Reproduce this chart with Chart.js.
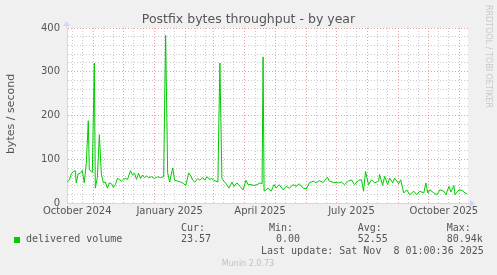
<!DOCTYPE html>
<html>
<head>
<meta charset="utf-8">
<script src="https://cdn.jsdelivr.net/npm/chart.js@4/dist/chart.umd.min.js"></script>
<style>
  html, body { margin: 0; padding: 0; background: #f0f0f0; }
  #chart { display: block; }
</style>
</head>
<body>
<canvas id="chart" width="497" height="275"></canvas>
<script>
// days since 2024-10-01, daily average bytes/second
const days = [5, 7, 9, 11, 13, 14, 16, 18, 20, 22, 24, 26, 27, 29, 30, 32, 33, 35, 37, 39,
  41, 43, 45, 47, 49, 51, 53, 55, 57, 59, 61, 63, 65, 68, 70, 72, 74, 76, 78, 80,
  82, 84, 86, 89, 92, 95, 98, 101, 103, 105, 107, 110, 112, 115, 118, 121, 123, 126, 128, 130,
  132, 135, 137, 140, 142, 144, 147, 149, 151, 153, 155, 157, 159, 161, 163, 166, 169, 171, 174, 177,
  180, 183, 185, 188, 191, 194, 197, 199, 200, 201, 205, 208, 211, 213, 216, 220, 223, 226, 230, 233,
  236, 240, 243, 246, 250, 253, 256, 260, 264, 266, 270, 275, 278, 281, 285, 288, 291, 295, 298, 300,
  302, 305, 308, 311, 315, 316, 319, 321, 324, 326, 329, 331, 335, 337, 340, 343, 346, 350, 353, 356,
  360, 362, 364, 366, 370, 373, 376, 380, 382, 385, 387, 390, 391, 395, 398, 401, 403];
const volume = [48, 52, 66, 72, 74, 46, 67, 68, 74, 46, 91, 188, 76, 72, 70, 320, 34, 58, 156, 66,
  46, 48, 34, 46, 44, 36, 42, 56, 54, 50, 54, 56, 54, 74, 64, 68, 54, 68, 56, 64,
  58, 62, 58, 60, 56, 60, 58, 60, 383, 69, 48, 80, 52, 50, 48, 44, 40, 69, 62, 52,
  48, 56, 52, 58, 52, 60, 54, 56, 52, 50, 48, 320, 56, 50, 45, 34, 48, 38, 46, 38,
  30, 52, 42, 42, 40, 42, 46, 44, 334, 27, 34, 27, 42, 34, 42, 30, 38, 34, 42, 38,
  44, 34, 32, 46, 50, 46, 51, 47, 59, 50, 47, 46, 48, 42, 50, 53, 42, 52, 53, 27,
  72, 42, 53, 46, 50, 65, 40, 61, 42, 57, 46, 57, 44, 53, 23, 30, 19, 27, 19, 27,
  23, 46, 23, 30, 23, 19, 30, 27, 19, 38, 25, 40, 19, 30, 29, 23, 21];

// first day of each month (days since 2024-10-01)
const monthStarts = [31, 61, 92, 123, 151, 182, 212, 243, 273, 304, 335, 365, 396];
const minorTicks = [10, 20, 41, 51, 71, 81, 102, 112, 133, 143, 161, 171, 192, 202, 222, 232,
  253, 263, 283, 293, 314, 324, 345, 355, 375, 385];
const labelDays = [15, 107, 197, 288, 380];
const labelNames = ['October 2024', 'January 2025', 'April 2025', 'July 2025', 'October 2025'];

const AXIS = '#cfd6f8';
const MINOR = 'rgba(190,190,190,0.8)';
const MAJOR = 'rgba(230,130,130,0.75)';
const FONT = '#555555';

const decor = {
  id: 'decor',
  beforeDraw(chart) {
    const { ctx, chartArea: a } = chart;
    ctx.save();
    ctx.fillStyle = '#f0f0f0';
    ctx.fillRect(0, 0, chart.width, chart.height);
    ctx.fillStyle = '#ffffff';
    ctx.fillRect(a.left, a.top, a.right - a.left, a.bottom - a.top);
    ctx.restore();
  },
  afterDraw(chart) {
    const { ctx, chartArea: a } = chart;
    ctx.save();
    // axis extensions and arrows
    ctx.strokeStyle = AXIS;
    ctx.fillStyle = AXIS;
    ctx.lineWidth = 1;
    ctx.beginPath();
    ctx.moveTo(a.right, a.bottom + 0.5); ctx.lineTo(a.right + 4, a.bottom + 0.5);
    ctx.moveTo(a.left - 0.5, a.top); ctx.lineTo(a.left - 0.5, a.top - 4);
    ctx.stroke();
    ctx.beginPath();
    ctx.moveTo(a.right + 2, a.bottom - 3); ctx.lineTo(a.right + 7, a.bottom + 0.5); ctx.lineTo(a.right + 2, a.bottom + 4);
    ctx.closePath(); ctx.fill();
    ctx.beginPath();
    ctx.moveTo(a.left - 4, a.top - 2); ctx.lineTo(a.left - 0.5, a.top - 7); ctx.lineTo(a.left + 3, a.top - 2);
    ctx.closePath(); ctx.fill();

    // title
    ctx.fillStyle = FONT;
    ctx.textAlign = 'center';
    ctx.textBaseline = 'middle';
    ctx.font = '12.5px "DejaVu Sans"';
    ctx.fillText('Postfix bytes throughput - by year', chart.width / 2, 20);

    // y axis title
    ctx.save();
    ctx.translate(11, 114);
    ctx.rotate(-Math.PI / 2);
    ctx.font = '11px "DejaVu Sans"';
    ctx.fillText('bytes / second', 0, 0);
    ctx.restore();

    // rrdtool credit
    ctx.save();
    ctx.translate(488, 5);
    ctx.rotate(Math.PI / 2);
    ctx.textAlign = 'left';
    ctx.fillStyle = '#c8c8c8';
    ctx.font = '8px "DejaVu Sans"';
    ctx.fillText('RRDTOOL / TOBI OETIKER', 0, 0);
    ctx.restore();

    // legend
    ctx.textAlign = 'left';
    ctx.font = '10px "DejaVu Sans Mono"';
    ctx.fillStyle = FONT;
    ctx.fillText('Cur:', 181, 228);
    ctx.fillText('Min:', 269, 228);
    ctx.fillText('Avg:', 357.7, 228);
    ctx.fillText('Max:', 446.7, 228);
    ctx.fillText('delivered volume', 26, 239.5);
    ctx.fillText('23.57', 181, 239.5);
    ctx.fillText('0.00', 276, 239.5);
    ctx.fillText('52.55', 357.7, 239.5);
    ctx.fillText('80.94k', 446.7, 239.5);
    ctx.fillText('Last update: Sat Nov  8 01:00:36 2025', 261, 251.5);
    ctx.fillStyle = '#00cc00';
    ctx.fillRect(14, 237, 6, 6);

    ctx.fillStyle = '#c0c0c0';
    ctx.textAlign = 'center';
    ctx.font = '8px "DejaVu Sans"';
    ctx.fillText('Munin 2.0.73', 248, 264);
    ctx.restore();
  }
};

const xTicks = [...minorTicks, ...monthStarts, ...labelDays].sort((p, q) => p - q);

new Chart(document.getElementById('chart'), {
  type: 'line',
  data: {
    datasets: [{
      label: 'delivered volume',
      data: days.map((d, i) => ({ x: d, y: volume[i] })),
      borderColor: '#00cc00',
      borderWidth: 1,
      pointRadius: 0,
      tension: 0,
      fill: false
    }]
  },
  options: {
    responsive: false,
    animation: false,
    layout: { padding: { top: 28, right: 29, left: 0, bottom: 0 } },
    plugins: { legend: { display: false }, tooltip: { enabled: false } },
    scales: {
      x: {
        type: 'linear',
        min: 4.8,
        max: 404,
        afterBuildTicks: axis => { axis.ticks = xTicks.map(v => ({ value: v })); },
        afterFit: scale => { scale.height = 72; },
        ticks: {
          autoSkip: false,
          maxRotation: 0,
          padding: 2,
          color: FONT,
          font: { family: 'DejaVu Sans', size: 10 },
          callback: v => {
            const i = labelDays.indexOf(v);
            return i >= 0 ? labelNames[i] : '';
          }
        },
        grid: {
          drawTicks: false,
          lineWidth: 1,
          color: c => {
            const v = c.tick ? c.tick.value : null;
            if (monthStarts.includes(v)) return MAJOR;
            if (minorTicks.includes(v)) return MINOR;
            return 'rgba(0,0,0,0)';
          }
        },
        border: { color: AXIS, width: 1, dash: [1, 2] }
      },
      y: {
        min: 0,
        max: 400,
        afterFit: scale => { scale.width = 67; },
        ticks: {
          stepSize: 20,
          autoSkip: false,
          padding: 7,
          color: FONT,
          font: { family: 'DejaVu Sans', size: 10 },
          callback: v => (v % 100 === 0 ? v : '')
        },
        grid: {
          drawTicks: false,
          lineWidth: 1,
          color: c => (c.tick && c.tick.value % 100 === 0 ? MAJOR : MINOR)
        },
        border: { color: AXIS, width: 1, dash: [1, 2] }
      }
    }
  },
  plugins: [decor]
});
</script>
</body>
</html>
